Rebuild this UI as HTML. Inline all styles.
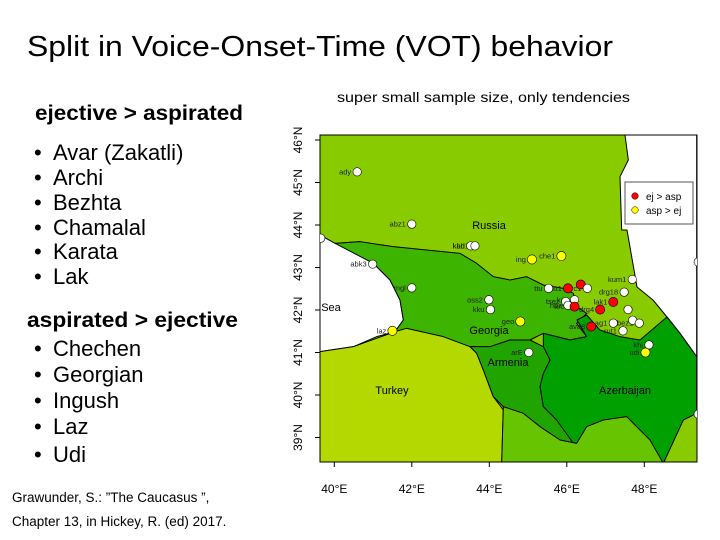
<!DOCTYPE html>
<html><head><meta charset="utf-8"><style>
html,body{margin:0;padding:0;background:#fff}
svg{display:block;font-family:"Liberation Sans",sans-serif}
</style></head><body>
<svg id="slide" width="720" height="540" viewBox="0 0 720 540">
<text x="27" y="56" font-size="29" fill="#000" textLength="586" lengthAdjust="spacingAndGlyphs">Split in Voice-Onset-Time (VOT) behavior</text>
<text x="337" y="102" font-size="13.5" fill="#000" textLength="293" lengthAdjust="spacingAndGlyphs">super small sample size, only tendencies</text>
<g fill="#000">
<text x="35" y="120" font-size="21" font-weight="bold" textLength="208" lengthAdjust="spacingAndGlyphs">ejective &gt; aspirated</text>
<g font-size="22">
<text x="34" y="160">•</text><text x="53" y="160">Avar (Zakatli)</text>
<text x="34" y="185">•</text><text x="53" y="185">Archi</text>
<text x="34" y="210">•</text><text x="53" y="210">Bezhta</text>
<text x="34" y="235">•</text><text x="53" y="235">Chamalal</text>
<text x="34" y="259">•</text><text x="53" y="259">Karata</text>
<text x="34" y="284">•</text><text x="53" y="284">Lak</text>
</g>
<text x="27" y="327" font-size="21" font-weight="bold" textLength="211" lengthAdjust="spacingAndGlyphs">aspirated &gt; ejective</text>
<g font-size="22">
<text x="34" y="356">•</text><text x="53" y="356">Chechen</text>
<text x="34" y="382">•</text><text x="53" y="382">Georgian</text>
<text x="34" y="408">•</text><text x="53" y="408">Ingush</text>
<text x="34" y="434">•</text><text x="53" y="434">Laz</text>
<text x="34" y="462">•</text><text x="53" y="462">Udi</text>
</g>
<text x="12" y="502" font-size="13.5">Grawunder, S.:  ”The Caucasus ”,</text>
<text x="12" y="526" font-size="13.5">Chapter 13, in Hickey, R. (ed) 2017.</text>
</g>

<defs><clipPath id="frame"><rect x="320" y="135" width="377" height="327"/></clipPath></defs>
<g clip-path="url(#frame)">
<g transform="translate(310,120) scale(0.33333)" stroke="#000" stroke-width="3" stroke-linejoin="round">
<rect x="30" y="45" width="1130" height="985" fill="#88cc00" stroke="none"/>
<path d="M945,45 L955,120 L930,170 L935,330 L951,330 L981,501 L1029,540 L1071,591 L1110,640 L1160,710 L1160,45 Z" fill="#fff"/>
<path d="M30,345 L75,370 L150,365 L190,430 L240,480 L270,540 L280,600 L255,635 L200,650 L130,680 L30,695 Z" fill="#fff"/>
<path d="M75,370 L150,365 L250,380 L350,390 L450,400 L500,430 L550,470 L600,480 L650,470 L700,495 L760,505 L790,520 L800,560 L830,580 L800,610 L830,650 L780,660 L700,640 L660,660 L600,660 L540,680 L480,680 L420,660 L340,640 L280,635 L255,635 L280,600 L270,540 L240,480 L190,430 Z" fill="#3db400"/>
<path d="M30,695 L130,680 L255,635 L290,625 L400,650 L480,680 L500,700 L520,750 L550,830 L580,870 L575,1030 L30,1030 Z" fill="#b4d900"/>
<path d="M700,640 L780,660 L830,650 L801,600 L830,585 L870,630 L930,650 L990,660 L1071,591 L1110,640 L1160,710 L1160,880 L1120,900 L1060,1030 L800,1030 L800,970 L750,960 L740,900 L700,860 L690,800 L700,760 L720,720 L700,680 Z" fill="#00a000"/>
<path d="M480,680 L540,680 L600,660 L660,660 L700,680 L720,720 L700,760 L690,800 L700,860 L740,900 L790,970 L750,960 L690,920 L640,880 L580,860 L550,830 L520,750 L500,700 Z" fill="#22a400"/>
<path d="M580,860 L640,880 L690,920 L750,960 L800,970 L830,920 L880,900 L950,890 L1020,960 L1060,1030 L575,1030 Z" fill="#66c400"/>
</g>
</g>
<rect x="320" y="135" width="377" height="327" fill="none" stroke="#000" stroke-width="1"/>
<g font-size="11" fill="#000" text-anchor="middle">
<text x="489" y="229">Russia</text>
<text x="489" y="334">Georgia</text>
<text x="508" y="366">Armenia</text>
<text x="392" y="394">Turkey</text>
<text x="625" y="394">Azerbaijan</text>
<text x="331" y="311">Sea</text>
</g>
<g id="axes"></g>
<g id="points"></g>
<g>
<rect x="625" y="182" width="68" height="42" fill="#fff" stroke="#555" stroke-width="1"/>
<circle cx="635" cy="196" r="3.3" fill="#ff0000" stroke="#000" stroke-width="0.5"/>
<text x="646" y="200" font-size="10">ej &gt; asp</text>
<circle cx="635" cy="210" r="3.3" fill="#ffff00" stroke="#000" stroke-width="0.5"/>
<text x="646" y="214" font-size="10">asp &gt; ej</text>
</g>
</svg>
<script>
const lonTicks = [40, 42, 44, 46, 48];
const latTicks = [46, 45, 44, 43, 42, 41, 40, 39];
const names = ["ady","abz1","kab","kbd1","","abk3","mgl","ing","che1","kum1","ttu","kkt1","","arc1","drg18","lak1","kav","tsez","hbz","krc1","drg4","","oss2","kku","geo","laz","ava8","ag1","","bez1","rut1","khi","udi","arE","",""];
const lons = [40.59,42.0,43.52,43.63,39.65,40.99,42.0,45.10,45.86,47.69,45.53,46.03,46.36,46.53,47.48,47.2,46.2,45.97,46.03,46.2,46.86,47.58,43.99,44.03,44.8,41.50,46.63,47.2,47.7,47.87,47.45,48.12,48.03,45.02,49.39,49.39];
const lats = [45.25,44.02,43.51,43.51,43.69,43.08,42.52,43.19,43.27,42.72,42.51,42.51,42.60,42.51,42.42,42.19,42.24,42.20,42.11,42.08,42.01,42.01,42.24,42.01,41.73,41.51,41.61,41.69,41.76,41.69,41.51,41.18,41.00,41.00,43.13,39.55];
const groups = ["n","n","n","n","n","n","n","y","y","n","n","r","r","n","n","r","n","n","n","r","r","n","n","n","y","y","r","n","n","n","n","n","y","n","n","n"];
const colors = {n:"#ffffff", r:"#ff0000", y:"#ffff00"};
const NS = "http://www.w3.org/2000/svg";
function xScale(lon){ return 334.3 + (lon - 40) * 38.75; }
function yScale(lat){ return 140 + (46 - lat) * 42.5; }
const axes = document.getElementById('axes');
lonTicks.forEach(v => {
  const x = xScale(v);
  const l = document.createElementNS(NS,'line');
  l.setAttribute('x1',x); l.setAttribute('x2',x); l.setAttribute('y1',462); l.setAttribute('y2',467);
  l.setAttribute('stroke','#000');
  
  
  axes.appendChild(l);
  const t = document.createElementNS(NS,'text');
  t.setAttribute('x',x); t.setAttribute('y',493); t.setAttribute('font-size','12'); t.setAttribute('text-anchor','middle');
  t.textContent = v + '°E';
  
  
  axes.appendChild(t);
});
latTicks.forEach(v => {
  const y = yScale(v);
  const l = document.createElementNS(NS,'line');
  l.setAttribute('x1',315); l.setAttribute('x2',320); l.setAttribute('y1',y); l.setAttribute('y2',y);
  l.setAttribute('stroke','#000');
  
  
  axes.appendChild(l);
  const t = document.createElementNS(NS,'text');
  t.setAttribute('transform','translate(302,'+y+') rotate(-90)');
  t.setAttribute('font-size','12'); t.setAttribute('text-anchor','middle');
  t.textContent = v + '°N';
  
  
  axes.appendChild(t);
});
const pts = document.getElementById('points');
const clip = 'url(#frame)';
lons.forEach((lon,i) => {
  const x = xScale(lon), y = yScale(lats[i]);
  if (names[i]) {
    const t = document.createElementNS(NS,'text');
    t.setAttribute('x', x - 6); t.setAttribute('y', y + 2.5);
    t.setAttribute('font-size','7.5'); t.setAttribute('text-anchor','end'); t.setAttribute('fill','#222');
    t.textContent = names[i];
    
    
    pts.appendChild(t);
  }
});
lons.forEach((lon,i) => {
  const c = document.createElementNS(NS,'circle');
  c.setAttribute('cx', xScale(lon)); c.setAttribute('cy', yScale(lats[i]));
  c.setAttribute('r', groups[i] === 'n' ? 4.2 : 4.6);
  c.setAttribute('fill', colors[groups[i]]);
  c.setAttribute('stroke','#000'); c.setAttribute('stroke-width','0.6');
  c.setAttribute('clip-path', clip);
  
  
  pts.appendChild(c);
});
</script>
</body></html>
